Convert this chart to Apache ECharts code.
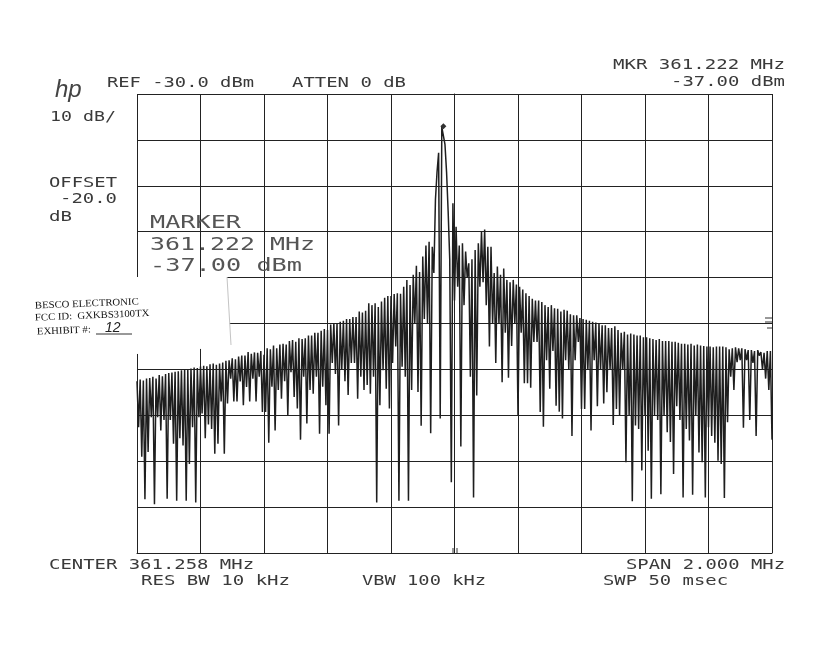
<!DOCTYPE html>
<html>
<head>
<meta charset="utf-8">
<style>html,body{margin:0;padding:0;background:#fff}#c{width:819px;height:650px}</style>
<script src="https://cdn.jsdelivr.net/npm/echarts@6/dist/echarts.min.js"></script>
</head>
<body>
<div id="c"></div>
<script>
// Sweep settings read from the analyzer's annotation
const spanKHz = [-1000, 1000];
const sweepStepKHz = 5;
const levelRange = [-130, -30];
const peakIndex = 193;

// Trace level (dBm), one value per sweep point, left part: point, notch, point, notch...
const traceLeft = [
-92.6,-102.6,-92.2,-109,-92.4,-118.3,-92,-108,-91.9,-100.4,-91.6,-119.4,-92,-100.4,-91.2,-103.3,-91.5,-101,-91,-118.2,
-90.8,-101,-90.7,-106.2,-90.5,-118.6,-90.4,-105,-90.2,-106.6,-90,-118.6,-90.1,-110.6,-89.8,-102.6,-89.6,-119,-89.7,-100.4,
-89.4,-99.6,-89.2,-105,-89.3,-102,-88.9,-103,-88.7,-108.4,-89,-106.2,-88.7,-97,-88.5,-108.4,-88.1,-97.4,-88,-92,
-87.6,-97,-87.8,-97,-87.2,-92.6,-87,-97.8,-87,-93.8,-86.2,-97,-86.6,-92,-86.3,-97,-86.4,-91.6,-86,-99.3,
-86.8,-99.3,-85.4,-106,-85.6,-93.8,-84.8,-103.3,-85.4,-94.5,-84.6,-96.4,-84.4,-92.6,-84.6,-100,-83.8,-90.6,-83.6,-96,
-84,-98.5,-83.2,-105.3,-83.4,-91.6,-83.2,-101.8,-82.6,-94.5,-82.6,-95.3,-82,-91.6,-82,-104,-81.6,-93.8,-81.2,-97.8,
-81.4,-104,-80.2,-88.6,-80,-91,-80,-102.2,-79.6,-90,-79.4,-92.6,-79,-95.6,-79,-88.6,-78.6,-88.6,-78.6,-96.4,
-77.4,-91.6,-77.6,-94.5,-77.2,-93.4,-75.6,-95.3,-76,-91.6,-75.6,-119,-76.4,-97.8,-75.2,-90.2,-74.4,-94.2,-74,-98.5,
-74,-88.6,-73.6,-85,-73.4,-118.6,-73.5,-89.4,-72,-91.6,-70.5,-118.6,-71.6,-94.5,-69.4,-80,-67.4,-94.9,-68.8,-102.3,
-65.4,-79,-63,-80,-62.2,-103.9,-63.3,-69,-53,-47,-42.8,-100.7
];
// Carrier peak, sweep points 192 to 199
const tracePeak = [-37.2,-37,-41,-47,-55.6,-66,-114.6,-53.8];
// Right part: notch, point, notch, point...
const traceRight = [
-75,-58.9,-72,-63,-106.8,-62.5,-76,-64.3,-70,-66.9,-91.6,-66,-117.9,-64,-95.7,-62.5,-72,-60,-71,-59.5,
-76,-63.3,-85,-63.3,-80,-69,-88.6,-67.6,-80,-69.4,-92.8,-68,-82,-70.5,-91.8,-71,-84.9,-70.5,-80,-71.5,
-100,-72,-82,-72.6,-93,-73.4,-93,-74,-94,-74.6,-84,-75,-84,-75,-99.3,-75.3,-102.5,-76,-88,-76.4,
-94.2,-76,-86,-76.7,-97.9,-76.8,-99.2,-77.4,-100.7,-77,-88,-77.2,-90,-78,-104.5,-78.2,-88,-78.2,-84,-78.8,
-98.6,-79,-98.6,-79.2,-90,-79.4,-103.3,-79.6,-88,-79.8,-98,-80,-90,-80.4,-97.4,-80.4,-95,-81,-90,-81,
-102.1,-80.6,-98.6,-81.4,-100,-82,-90,-81.8,-110.2,-82.4,-100,-82.2,-118.7,-82.4,-102.2,-82.6,-103,-82.6,-112,-83,
-100,-83,-107.7,-83.2,-118.2,-83.4,-100,-83.6,-101,-83.4,-117.2,-83.8,-100,-83.8,-103.7,-83.8,-105.8,-84,-112.8,-84,
-98,-84.2,-101,-84.4,-117.9,-84.4,-103,-84.6,-105.5,-84.4,-117.3,-84.8,-100,-84.6,-108.1,-84.8,-110.2,-84.9,-117.9,-85,
-102.6,-85,-104.5,-85.2,-106,-85,-109.9,-85,-110.6,-85,-118,-85.2,-101.5,-85.6,-91.6,-85.4,-94.5,-85.2,-88.4,-85.4,
-88,-85.4,-102.7,-85.6,-88,-85.8,-101,-85.8,-88.6,-86,-104.5,-85.8,-87,-86.2,-90,-86.4,-92,-86,-94.5,-86,
-105.3
];

// Instrument annotation: text, left x, middle y, drawn width, font size
const annotations = [
  ['REF -30.0 dBm',107,83,147,14],
  ['ATTEN 0 dB',292,83,114,14],
  ['MKR 361.222 MHz',613,65,172,14],
  ['-37.00 dBm',671,82,114,14],
  ['10 dB/',50,117,66,14],
  ['OFFSET',49,183,68,14],
  ['-20.0',60,199,57,14],
  ['dB',49,217,23,14],
  ['CENTER 361.258 MHz',49,565,205,14],
  ['RES BW 10 kHz',141,581,149,14],
  ['VBW 100 kHz',362,581,124,14],
  ['SPAN 2.000 MHz',626,565,159,14],
  ['SWP 50 msec',603,581,125,14],
  ['MARKER',150,223,91,18],
  ['361.222 MHz',150,245,165,18],
  ['-37.00 dBm',150,266,152,18]
];
// Stamp on the pasted paper label
const stampLines = [
  ['BESCO ELECTRONIC',35,306],
  ['FCC ID:  GXKBS3100TX',35,318],
  ['EXHIBIT #:',37,332]
];

const trace = traceLeft.concat(tracePeak, traceRight);
const points = trace.map((v, i) => [spanKHz[0] + i * sweepStepKHz, v]);
const ink = '#222222';

const graphics = annotations.map(([text, x, y, w, size]) => ({
  type: 'text', x, y, z: 20,
  scaleX: w / (text.length * size * 0.602),
  style: { text, font: size + 'px "DejaVu Sans Mono"', fill: size > 14 ? '#555' : '#3a3a3a', textVerticalAlign: 'middle' }
}));
// white paper label covering part of the screen
graphics.push({
  type: 'polygon', z: 10,
  shape: { points: [[25, 277], [227, 277], [231, 345], [200, 349], [137, 354], [25, 354]] },
  style: { fill: '#ffffff' }
});
graphics.push({ type: 'polyline', z: 11, shape: { points: [[227, 277], [231, 345]] }, style: { stroke: '#c4c4c4', lineWidth: 1, fill: null } });
stampLines.forEach(([text, x, y]) => {
  graphics.push({
    type: 'text', x, y, z: 20, rotation: 0.04,
    scaleX: 1.07,
    style: { text, font: '10px "Liberation Serif"', fill: '#111', textVerticalAlign: 'middle' }
  });
});
graphics.push({ type: 'text', x: 105, y: 328, z: 20, style: { text: '12', font: 'italic 14px "Liberation Sans"', fill: '#222', textVerticalAlign: 'middle' } });
graphics.push({ type: 'line', z: 20, shape: { x1: 96, y1: 334, x2: 132, y2: 334 }, style: { stroke: '#333', lineWidth: 1 } });
// hp logo
graphics.push({ type: 'text', x: 55, y: 90, z: 20, scaleX: 1.0, style: { text: 'hp', font: 'italic 24px "Liberation Sans"', fill: '#444', textVerticalAlign: 'middle' } });
// small graticule ticks at the right edge and the bottom
[[765, 318, 772, 318], [765, 322, 772, 322], [767, 328, 772, 328], [453, 548, 453, 553], [457, 548, 457, 553]].forEach(([x1, y1, x2, y2]) => {
  graphics.push({ type: 'line', z: 20, shape: { x1, y1, x2, y2 }, style: { stroke: '#333', lineWidth: 1 } });
});

const chart = echarts.init(document.getElementById('c'), null, { renderer: 'canvas' });
chart.setOption({
  animation: false,
  backgroundColor: '#ffffff',
  grid: { left: 137, top: 94, width: 635, height: 459, containLabel: false },
  xAxis: {
    type: 'value', min: spanKHz[0], max: spanKHz[1], interval: 200,
    axisLabel: { show: false }, axisTick: { show: false },
    axisLine: { show: true, onZero: false, lineStyle: { color: ink, width: 1 } },
    splitLine: { show: true, lineStyle: { color: ink, width: 1 } }
  },
  yAxis: {
    type: 'value', min: levelRange[0], max: levelRange[1], interval: 10,
    axisLabel: { show: false }, axisTick: { show: false },
    axisLine: { show: true, lineStyle: { color: ink, width: 1 } },
    splitLine: { show: true, lineStyle: { color: ink, width: 1 } }
  },
  series: [{
    type: 'line', data: points, showSymbol: false, sampling: false, silent: true,
    lineStyle: { color: '#1e1e1e', width: 1.5, join: 'bevel' },
    markPoint: {
      silent: true, symbol: 'diamond', symbolSize: 6,
      itemStyle: { color: '#333' }, label: { show: false },
      data: [{ coord: points[peakIndex] }]
    }
  }],
  graphic: graphics
});
</script>
</body>
</html>
